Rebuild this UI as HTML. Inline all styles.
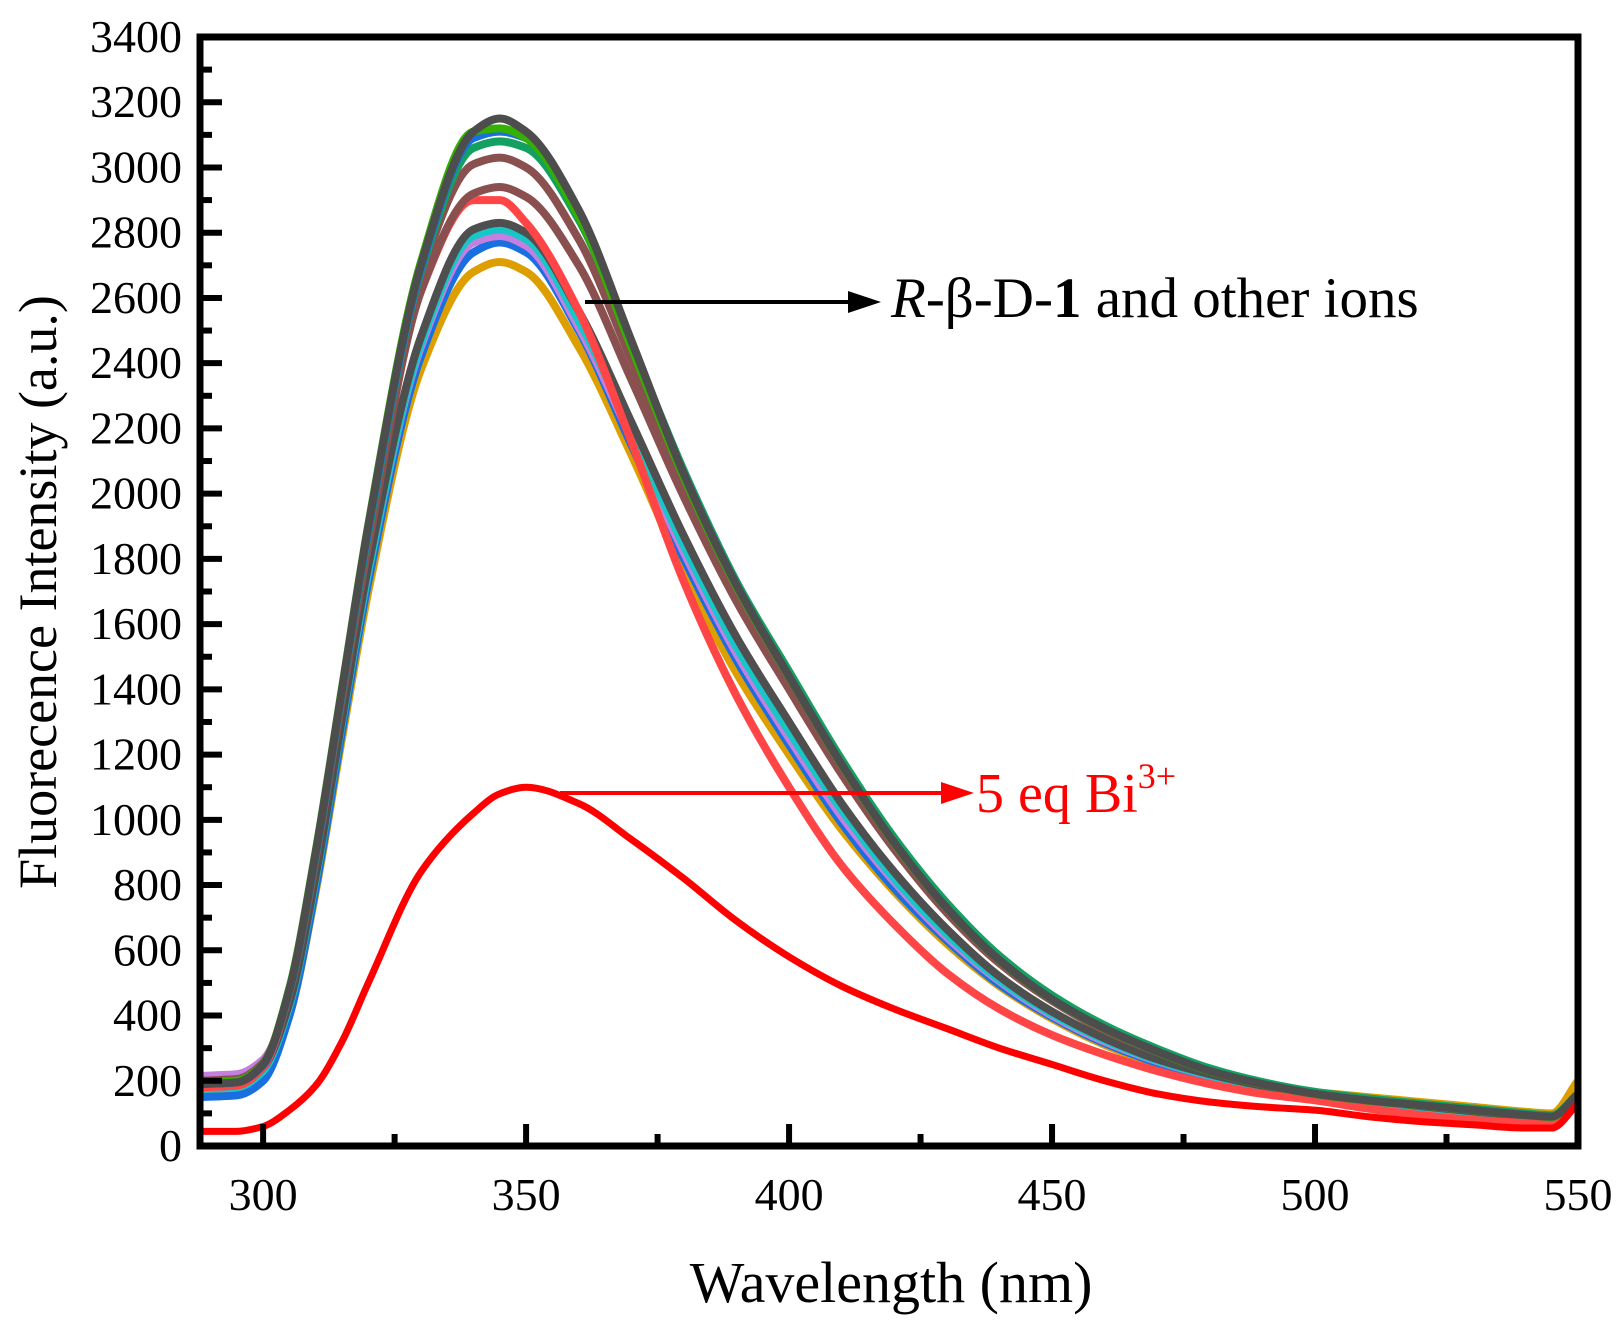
<!DOCTYPE html>
<html><head><meta charset="utf-8"><style>
html,body{margin:0;padding:0;background:#fff;}
svg{display:block;font-family:"Liberation Serif",serif;}
</style></head><body>
<svg id="chart" width="1624" height="1328" viewBox="0 0 1624 1328">
<g id="series"></g>
<g id="axes"></g>
<g>
  <line x1="585" y1="302" x2="858" y2="302" stroke="#000" stroke-width="4"/>
  <polygon points="881,302 848,291 848,313" fill="#000"/>
  <text x="891" y="317" font-size="57" fill="#000"><tspan font-style="italic">R</tspan>-β-D-<tspan font-weight="bold">1</tspan> and other ions</text>
  <line x1="560" y1="793" x2="950" y2="793" stroke="#ff0000" stroke-width="4"/>
  <polygon points="974,793 941,782 941,804" fill="#ff0000"/>
  <text x="976" y="812" font-size="56" fill="#ff0000">5 eq Bi<tspan font-size="36" dy="-24">3+</tspan></text>
</g>
<text x="891" y="1302" font-size="58" text-anchor="middle">Wavelength (nm)</text>
<text transform="translate(56,592) rotate(-90)" font-size="54" text-anchor="middle">Fluorecence Intensity (a.u.)</text>
</svg>
<script>
const wavelengths=[288,295,300,305,310,315,320,330,340,345,350,360,370,380,390,400,410,420,430,440,450,460,470,480,490,500,510,520,530,540,545,550];
const sOrange=[160,165,210,400,780,1250,1700,2380,2680,2710,2680,2450,2120,1760,1450,1200,970,780,620,490,390,310,250,210,180,165,150,135,120,105,100,200];
const sBlue1=[150,155,200,400,790,1270,1730,2420,2740,2770,2740,2500,2150,1800,1490,1230,990,790,630,495,395,315,255,210,175,150,130,115,100,85,80,150];
const sViolet=[215,220,265,450,840,1310,1760,2450,2770,2790,2760,2510,2170,1820,1510,1250,1010,810,640,505,400,320,260,215,180,155,135,118,102,88,82,150];
const sCyan=[175,180,230,430,820,1300,1760,2460,2790,2810,2780,2530,2190,1840,1530,1270,1030,820,650,510,405,325,262,216,182,158,138,120,104,90,84,150];
const sGray2=[185,190,240,440,830,1310,1780,2480,2810,2830,2800,2560,2220,1870,1560,1300,1050,840,665,520,412,330,266,220,185,160,140,122,106,92,86,150];
const sRed=[180,185,240,470,880,1380,1860,2620,2900,2900,2830,2560,2160,1730,1380,1100,860,680,530,420,340,280,230,190,160,140,115,95,80,70,65,140];
const sBrown1=[200,205,255,470,880,1370,1840,2620,2920,2940,2910,2700,2350,1990,1670,1400,1140,910,715,560,445,355,288,232,192,162,142,126,112,98,92,150];
const sBrown2=[200,205,255,475,890,1390,1880,2670,3010,3030,3000,2780,2410,2030,1700,1425,1160,925,728,568,450,360,292,234,194,164,144,127,112,97,90,150];
const sGreen=[195,200,250,475,890,1390,1880,2680,3060,3080,3060,2840,2460,2070,1730,1455,1185,945,745,583,462,370,298,238,196,166,146,130,115,100,94,160];
const sBlue2=[190,195,248,478,895,1395,1890,2690,3090,3110,3090,2860,2460,2060,1720,1440,1170,930,730,570,450,360,290,230,190,160,140,124,110,96,90,150];
const sLime=[195,200,252,485,905,1405,1905,2710,3110,3120,3090,2850,2450,2050,1715,1438,1168,928,729,569,449,359,289,229,189,159,139,124,109,95,89,150];
const sGray1=[190,195,250,480,900,1400,1900,2700,3110,3150,3110,2870,2470,2060,1720,1440,1170,930,730,570,450,360,290,230,190,160,140,125,110,95,90,160];
const sBi=[45,45,60,110,185,320,500,840,1020,1080,1100,1050,940,820,690,580,490,420,360,300,250,200,160,135,120,110,90,75,65,55,55,130];
const seriesNames=["orange","blue-1","violet","cyan","gray-2","red","brown-1","brown-2","green","blue-2","lime","gray-1","bi3-plus"];
const seriesValues=[sOrange,sBlue1,sViolet,sCyan,sGray2,sRed,sBrown1,sBrown2,sGreen,sBlue2,sLime,sGray1,sBi];
const seriesColors=["#dd9e00","#1a6fe0","#c47fe0","#17c6c6","#4f4f4f","#ff4545","#8a5050","#8a5050","#14a060","#1a6fe0","#33b000","#4d4d4d","#ff0000"];
const xTicks=[300,350,400,450,500,550];
const yTicks=[0,200,400,600,800,1000,1200,1400,1600,1800,2000,2200,2400,2600,2800,3000,3200,3400];

const X0=200,X1=1578,Y0=1146,Y1=37;
const xMin=288,xMax=550,yMin=0,yMax=3400;
function sx(v){return X0+(v-xMin)/(xMax-xMin)*(X1-X0);}
function sy(v){return Y0-(v-yMin)/(yMax-yMin)*(Y0-Y1);}
const NS="http://www.w3.org/2000/svg";
function mk(tag,parent){const e=document.createElementNS(NS,tag);parent.appendChild(e);return e;}
function pathFor(vals){
  const xs=wavelengths.map(sx), ys=vals.map(sy), n=xs.length;
  const d=[],m=new Array(n);
  for(let i=0;i<n-1;i++) d.push((ys[i+1]-ys[i])/(xs[i+1]-xs[i]));
  m[0]=d[0]; m[n-1]=d[n-2];
  for(let i=1;i<n-1;i++){
    if(d[i-1]*d[i]<=0) m[i]=0;
    else { const h0=xs[i]-xs[i-1],h1=xs[i+1]-xs[i];
      m[i]=3*(h0+h1)/((2*h1+h0)/d[i-1]+(h1+2*h0)/d[i]); }
  }
  let s="M"+xs[0]+","+ys[0];
  for(let i=0;i<n-1;i++){
    const h=(xs[i+1]-xs[i])/3;
    s+=" C"+(xs[i]+h)+","+(ys[i]+m[i]*h)+" "+(xs[i+1]-h)+","+(ys[i+1]-m[i+1]*h)+" "+xs[i+1]+","+ys[i+1];
  }
  return s;
}
const sg=document.getElementById("series");
seriesValues.forEach((vals,k)=>{
  const path=mk("path",sg);
  path.setAttribute("d",pathFor(vals));
  path.setAttribute("fill","none");
  path.setAttribute("stroke",seriesColors[k]);
  path.setAttribute("stroke-width",k===12?"7":"8");
  path.setAttribute("stroke-linejoin","round");
  
  
});
const ax=document.getElementById("axes");
const frame=mk("rect",ax);
frame.setAttribute("x",X0);frame.setAttribute("y",Y1);
frame.setAttribute("width",X1-X0);frame.setAttribute("height",Y0-Y1);
frame.setAttribute("fill","none");frame.setAttribute("stroke","#000");frame.setAttribute("stroke-width","7");


xTicks.forEach(t=>{
  const l=mk("line",ax);
  l.setAttribute("x1",sx(t));l.setAttribute("x2",sx(t));l.setAttribute("y1",Y0);l.setAttribute("y2",Y0-22);
  l.setAttribute("stroke","#000");l.setAttribute("stroke-width","6");
  
  
  const tx=mk("text",ax);
  tx.setAttribute("x",sx(t));tx.setAttribute("y",Y0+64);tx.setAttribute("font-size","46");tx.setAttribute("text-anchor","middle");
  tx.textContent=t;
  
  
  if(t+25<xMax){
    const m=mk("line",ax);
    m.setAttribute("x1",sx(t+25));m.setAttribute("x2",sx(t+25));m.setAttribute("y1",Y0);m.setAttribute("y2",Y0-12);
    m.setAttribute("stroke","#000");m.setAttribute("stroke-width","6");
    
    
  }
});
yTicks.forEach(t=>{
  const l=mk("line",ax);
  l.setAttribute("x1",X0);l.setAttribute("x2",X0+22);l.setAttribute("y1",sy(t));l.setAttribute("y2",sy(t));
  l.setAttribute("stroke","#000");l.setAttribute("stroke-width","6");
  
  
  const tx=mk("text",ax);
  tx.setAttribute("x",X0-18);tx.setAttribute("y",sy(t)+15);tx.setAttribute("font-size","46");tx.setAttribute("text-anchor","end");
  tx.textContent=t;
  
  
  if(t+100<yMax){
    const m=mk("line",ax);
    m.setAttribute("x1",X0);m.setAttribute("x2",X0+12);m.setAttribute("y1",sy(t+100));m.setAttribute("y2",sy(t+100));
    m.setAttribute("stroke","#000");m.setAttribute("stroke-width","6");
    
    
  }
});
</script>
</body></html>
